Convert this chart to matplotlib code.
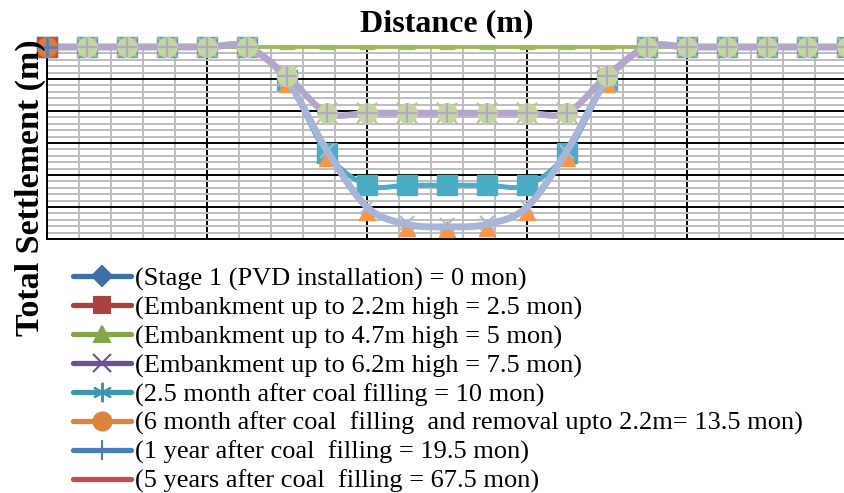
import numpy as np
import matplotlib
matplotlib.use("Agg")
import matplotlib.pyplot as plt
from matplotlib.lines import Line2D
from matplotlib.ticker import MultipleLocator

plt.rcParams["font.family"] = ["Liberation Serif", "DejaVu Serif"]

# distance along the section (m) and total settlement (m) at each stage
distance = np.arange(0, 101, 5)
flat = [0.0] * 6
stage_0 = [0.0] * 21
stage_2_5 = [0.0] * 21
stage_5 = [0.0] * 21
stage_7_5 = flat + [-0.45, -1.03, -1.03, -1.03, -1.03, -1.03, -1.03, -1.03, -0.45] + flat
stage_10 = flat + [-0.52, -1.66, -2.16, -2.16, -2.16, -2.16, -2.16, -1.66, -0.52] + flat
stage_13_5 = flat + [-0.58, -1.73, -2.58, -2.83, -2.84, -2.83, -2.58, -1.73, -0.58] + flat
stage_19_5 = flat + [-0.52, -1.62, -2.50, -2.75, -2.78, -2.75, -2.50, -1.64, -0.52] + flat
stage_67_5 = flat + [-0.52, -1.62, -2.50, -2.77, -2.81, -2.77, -2.50, -1.62, -0.52] + flat

labels = [
    "(Stage 1 (PVD installation) = 0 mon)",
    "(Embankment up to 2.2m high = 2.5 mon)",
    "(Embankment up to 4.7m high = 5 mon)",
    "(Embankment up to 6.2m high = 7.5 mon)",
    "(2.5 month after coal filling = 10 mon)",
    "(6 month after coal  filling  and removal upto 2.2m= 13.5 mon)",
    "(1 year after coal  filling = 19.5 mon)",
    "(5 years after coal  filling = 67.5 mon)",
]
legend_colors = ["#3F6FA8", "#A8423F", "#86A448", "#6E5290", "#3D97AD", "#DB843D", "#4A7EBB", "#C0504D"]
legend_markers = ["D", "s", "^", "x", (6, 2, 0), "o", "|", ""]
legend_sizes = [10, 12, 12, 13, 14, 13, 14, 0]


def smooth(x, y, n=16):
    # Catmull-Rom curve through the points (spreadsheet style smoothed line)
    p = np.column_stack([x, y]).astype(float)
    p = np.vstack([p[0], p, p[-1]])
    p0, p1, p2, p3 = p[:-3], p[1:-2], p[2:-1], p[3:]
    t = np.linspace(0, 1, n, endpoint=False)[None, :, None]
    p0, p1, p2, p3 = (a[:, None, :] for a in (p0, p1, p2, p3))
    c = 0.5 * (2 * p1 + (p2 - p0) * t + (2 * p0 - 5 * p1 + 4 * p2 - p3) * t ** 2
               + (3 * p1 - p0 - 3 * p2 + p3) * t ** 3)
    c = np.vstack([c.reshape(-1, 2), p[-2]])
    return c[:, 0], c[:, 1]


fig = plt.figure(figsize=(8.45, 4.93), dpi=100)
ax = fig.add_axes([47 / 845, 1 - 239 / 493, 800 / 845, 192 / 493])
ax.set_xlim(0, 100)
ax.set_ylim(-3.0, 0)
ax.xaxis.set_major_locator(MultipleLocator(20))
ax.xaxis.set_minor_locator(MultipleLocator(4))
ax.yaxis.set_major_locator(MultipleLocator(0.5))
ax.yaxis.set_minor_locator(MultipleLocator(0.1))
ax.grid(which="minor", color="#BDBDBD", lw=1.4)
ax.grid(which="major", color="black", lw=1.4)
ax.set_axisbelow(True)
ax.tick_params(which="both", length=0, labelbottom=False, labelleft=False)
for s in ("top", "right"):
    ax.spines[s].set_visible(False)
for s in ("left", "bottom"):
    ax.spines[s].set_linewidth(1.4)

kw = dict(clip_on=False)
# 5 mon: flat green line along the top
ax.plot(distance, stage_5, color="#9BBB59", lw=2.8, marker="_", ms=12, mew=3.8, zorder=3, **kw)
# 10 mon: teal with squares
sx, sy = smooth(distance, stage_10)
ax.plot(sx, sy, color="#4BACC6", lw=3.6, zorder=4, **kw)
ax.plot(distance, stage_10, ls="none", marker="s", ms=14, color="#4BACC6", zorder=4, **kw)
# 13.5 mon: orange triangles
ax.plot(distance, stage_13_5, ls="none", marker="^", ms=11, color="#F79646", zorder=5, **kw)
# 19.5 / 67.5 mon: blue-grey curve with crosses
ax.plot(distance, stage_19_5, ls="none", marker="x", ms=10, mew=1.5, color="#A9B9DA", zorder=6, **kw)
sx, sy = smooth(distance, stage_67_5)
ax.plot(sx, sy, color="#A7B6D8", lw=5, zorder=6, **kw)
# 7.5 mon: light purple curve, green circles, pink crosses and plus signs
ax.plot(distance, stage_7_5, ls="none", marker="x", ms=14, mew=1.5, color="#E3A6A6", zorder=7, **kw)
sx, sy = smooth(distance, stage_7_5)
ax.plot(sx, sy, color="#B4A6CA", lw=4.6, zorder=8, **kw)
ax.plot(distance, stage_7_5, ls="none", marker="o", ms=14, color="#C4D79E", zorder=8, **kw)
ax.plot(distance, stage_7_5, ls="none", marker="+", ms=14, mew=1.6, color="#B2A8C8", zorder=9, **kw)
# first reading at the left end
ax.plot(distance[:1], stage_2_5[:1], ls="none", marker="s", ms=14, color="#C0504D", zorder=10, **kw)
ax.plot(distance[:1], stage_13_5[:1], ls="none", marker="o", ms=14, color="#E07B39", zorder=10, **kw)
ax.plot(distance[:1], stage_19_5[:1], ls="none", marker="+", ms=14, mew=2, color="#4F81BD", zorder=11, **kw)

fig.text(447 / 845, 1 - 24 / 493, "Distance (m)", ha="center", va="center",
         fontsize=23, fontweight="bold")
fig.text(30 / 845, 1 - 188 / 493, "Total Settlement (m)", ha="center", va="center",
         rotation=90, fontsize=24.5, fontweight="bold")

handles = [Line2D([], [], color=c, lw=3.8, marker=m, ms=s, mew=1.5, solid_capstyle="round")
           for c, m, s in zip(legend_colors, legend_markers, legend_sizes)]
ax.legend(handles, labels, loc="upper left", bbox_to_anchor=(73 / 845, 1 - 267 / 493),
          bbox_transform=fig.transFigure, frameon=False, fontsize=19,
          handlelength=2.2, handletextpad=0.15, labelspacing=0.19,
          borderpad=0, borderaxespad=0)

fig.savefig("out.png", dpi=100)
